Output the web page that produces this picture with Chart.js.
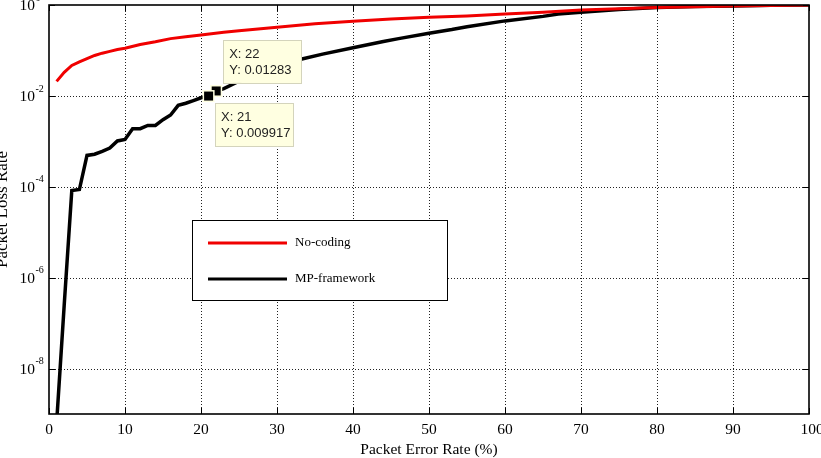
<!DOCTYPE html>
<html>
<head>
<meta charset="utf-8">
<script src="https://cdn.jsdelivr.net/npm/chart.js@4.4.1/dist/chart.umd.min.js"></script>
<style>
  html, body { margin: 0; padding: 0; background: #fff; }
  canvas { display: block; }
</style>
</head>
<body>
<canvas id="chart1" width="821" height="458"></canvas>
<script>
// No-coding curve
var redX = [1, 2, 3, 4, 5, 6, 7, 8, 9, 10, 12, 14, 16, 18, 20, 23, 25, 30, 35, 40, 45, 50, 55, 60, 65, 70, 75, 80, 85, 90, 95, 100];
var redY = [0.0209, 0.0331, 0.0468, 0.0562, 0.0661, 0.0776, 0.0871, 0.0955, 0.105, 0.112, 0.135, 0.155, 0.182, 0.200, 0.219,
            0.251, 0.272, 0.324, 0.389, 0.437, 0.490, 0.537, 0.575, 0.631, 0.692, 0.776, 0.832, 0.881, 0.912, 0.955, 0.977, 1];

// MP-framework curve
var blackX = [1, 2, 3, 4, 5, 6, 7, 8, 9, 10, 11, 12, 13, 14, 15, 16, 17, 18, 19, 20, 21, 22, 23, 25, 27, 30, 33, 36, 40, 44, 46,
              50, 53, 55, 60, 65, 67, 70, 75, 80, 85, 90, 95, 100];
var blackY = [6.3e-10, 2.5e-7, 8.3e-5, 8.7e-5, 4.9e-4, 5.2e-4, 6.0e-4, 7.1e-4, 1.02e-3, 1.10e-3, 1.9e-3, 1.9e-3, 2.24e-3, 2.24e-3,
              3.0e-3, 3.8e-3, 6.2e-3, 6.9e-3, 7.9e-3, 9.1e-3, 0.009917, 0.01283, 0.0145, 0.021, 0.028, 0.044, 0.063, 0.083, 0.115,
              0.158, 0.182, 0.240, 0.288, 0.331, 0.447, 0.562, 0.631, 0.692, 0.794, 0.881, 0.923, 0.955, 0.982, 1];

// data tips
var tipX = [22, 21];
var tipY = [0.01283, 0.009917];
var tipText = [['X: 22', 'Y: 0.01283'], ['X: 21', 'Y: 0.009917']];

// axes
var xTicks = [0, 10, 20, 30, 40, 50, 60, 70, 80, 90, 100];
var yTickExp = [0, -2, -4, -6, -8];

function pts(xs, ys) {
    return xs.map(function (x, i) { return { x: x, y: ys[i] }; });
}

var serif = '"Liberation Serif", "Times New Roman", serif';
var sans = '"Liberation Sans", Arial, sans-serif';

var framePlugin = {
    id: 'frame',
    beforeDatasetsDraw: function (chart) {
        var ctx = chart.ctx, a = chart.chartArea;
        var xs = chart.scales.x, ys = chart.scales.y;
        ctx.save();
        ctx.strokeStyle = '#222';
        ctx.lineWidth = 1;
        ctx.setLineDash([1, 2]);
        xTicks.forEach(function (t) {
            if (t <= 0 || t >= 100) return;
            var px = Math.round(xs.getPixelForValue(t)) + 0.5;
            ctx.beginPath(); ctx.moveTo(px, a.top); ctx.lineTo(px, a.bottom); ctx.stroke();
        });
        yTickExp.forEach(function (e) {
            if (e === 0) return;
            var py = Math.round(ys.getPixelForValue(Math.pow(10, e))) + 0.5;
            ctx.beginPath(); ctx.moveTo(a.left, py); ctx.lineTo(a.right, py); ctx.stroke();
        });
        ctx.restore();
    },
    afterDatasetsDraw: function (chart) {
        var ctx = chart.ctx, a = chart.chartArea;
        var xs = chart.scales.x, ys = chart.scales.y;
        ctx.save();

        // tick marks on all four sides
        ctx.strokeStyle = '#000';
        ctx.lineWidth = 1;
        xTicks.forEach(function (t) {
            var px = Math.round(xs.getPixelForValue(t)) + 0.5;
            ctx.beginPath();
            ctx.moveTo(px, a.bottom); ctx.lineTo(px, a.bottom - 6);
            ctx.moveTo(px, a.top); ctx.lineTo(px, a.top + 6);
            ctx.stroke();
        });
        yTickExp.forEach(function (e) {
            var py = Math.round(ys.getPixelForValue(Math.pow(10, e))) + 0.5;
            ctx.beginPath();
            ctx.moveTo(a.left, py); ctx.lineTo(a.left + 6, py);
            ctx.moveTo(a.right, py); ctx.lineTo(a.right - 6, py);
            ctx.stroke();
        });

        // box
        ctx.lineWidth = 1.6;
        ctx.strokeRect(a.left, a.top, a.right - a.left, a.bottom - a.top);

        // x tick labels
        ctx.fillStyle = '#000';
        ctx.font = '15.5px ' + serif;
        ctx.textAlign = 'center';
        ctx.textBaseline = 'middle';
        xTicks.forEach(function (t) {
            ctx.fillText(String(t), xs.getPixelForValue(t) + (t === 100 ? 3 : 0), a.bottom + 16);
        });

        // y tick labels with superscripts
        yTickExp.forEach(function (e) {
            var py = ys.getPixelForValue(Math.pow(10, e));
            ctx.font = '15.5px ' + serif;
            ctx.textAlign = 'right';
            ctx.textBaseline = 'middle';
            ctx.fillText('10', 35, py + 1);
            ctx.font = '10px ' + serif;
            ctx.textAlign = 'left';
            ctx.fillText(String(e), 35.5, py - 7);
        });

        // axis titles
        ctx.font = '15.5px ' + serif;
        ctx.textAlign = 'center';
        ctx.textBaseline = 'middle';
        ctx.fillText('Packet Error Rate (%)', (a.left + a.right) / 2, 450);
        ctx.save();
        ctx.font = '17px ' + serif;
        ctx.translate(7, (a.top + a.bottom) / 2);
        ctx.rotate(-Math.PI / 2);
        ctx.textBaseline = 'alphabetic';
        ctx.fillText('Packet Loss Rate', 0, 0);
        ctx.restore();

        // data tip markers
        tipX.forEach(function (x, i) {
            var px = xs.getPixelForValue(x), py = ys.getPixelForValue(tipY[i]);
            ctx.fillStyle = '#ffffe1';
            ctx.fillRect(px - 6, py - 6, 12, 12);
            ctx.fillStyle = '#000';
            ctx.fillRect(px - 4.5, py - 4.5, 9, 9);
        });

        // data tip boxes
        ctx.font = '13px ' + sans;
        ctx.textAlign = 'left';
        ctx.textBaseline = 'middle';
        tipX.forEach(function (x, i) {
            var px = xs.getPixelForValue(x), py = ys.getPixelForValue(tipY[i]);
            var bx, by;
            if (i === 0) { bx = px + 7; by = py - 51; } else { bx = px + 6.5; by = py + 7; }
            var w = 78, h = 43;
            ctx.fillStyle = '#ffffe1';
            ctx.fillRect(bx, by, w, h);
            ctx.strokeStyle = '#d4d4bc';
            ctx.lineWidth = 1;
            ctx.strokeRect(Math.round(bx) + 0.5, Math.round(by) + 0.5, w, h);
            ctx.fillStyle = '#222';
            ctx.fillText(tipText[i][0], bx + 6, by + 14);
            ctx.fillText(tipText[i][1], bx + 6, by + 30);
        });

        // legend
        var lx = 192.5, ly = 220.5, lw = 255, lh = 80;
        ctx.fillStyle = '#fff';
        ctx.fillRect(lx, ly, lw, lh);
        ctx.strokeStyle = '#000';
        ctx.lineWidth = 1;
        ctx.strokeRect(lx, ly, lw, lh);
        var items = chart.data.datasets.slice(0, 2);
        var rowsY = [243, 279];
        items.forEach(function (ds, i) {
            ctx.strokeStyle = ds.borderColor;
            ctx.lineWidth = 3;
            ctx.beginPath(); ctx.moveTo(208, rowsY[i]); ctx.lineTo(287, rowsY[i]); ctx.stroke();
            ctx.fillStyle = '#000';
            ctx.font = '13px ' + serif;
            ctx.textBaseline = 'middle';
            ctx.fillText(ds.label, 295, rowsY[i]);
        });

        ctx.restore();
    }
};

document.addEventListener("DOMContentLoaded", function () {
    var ctx = document.getElementById('chart1').getContext('2d');
    var lineChart = new Chart(ctx, {
        type: 'line',
        data: {
            datasets: [{
                label: 'No-coding',
                data: pts(redX, redY),
                borderColor: '#f00000',
                borderWidth: 3,
                pointRadius: 0,
                tension: 0,
                fill: false
            }, {
                label: 'MP-framework',
                data: pts(blackX, blackY),
                borderColor: '#000000',
                borderWidth: 3.5,
                pointRadius: 0,
                tension: 0,
                fill: false
            }]
        },
        options: {
            responsive: false,
            animation: false,
            events: [],
            layout: {
                padding: { left: 49, top: 5, right: 12, bottom: 44 }
            },
            plugins: {
                legend: { display: false },
                tooltip: { enabled: false }
            },
            scales: {
                x: {
                    type: 'linear',
                    min: 0,
                    max: 100,
                    display: false
                },
                y: {
                    type: 'logarithmic',
                    min: 1e-9,
                    max: 1,
                    display: false
                }
            }
        },
        plugins: [framePlugin]
    });
});
</script>
</body>
</html>
